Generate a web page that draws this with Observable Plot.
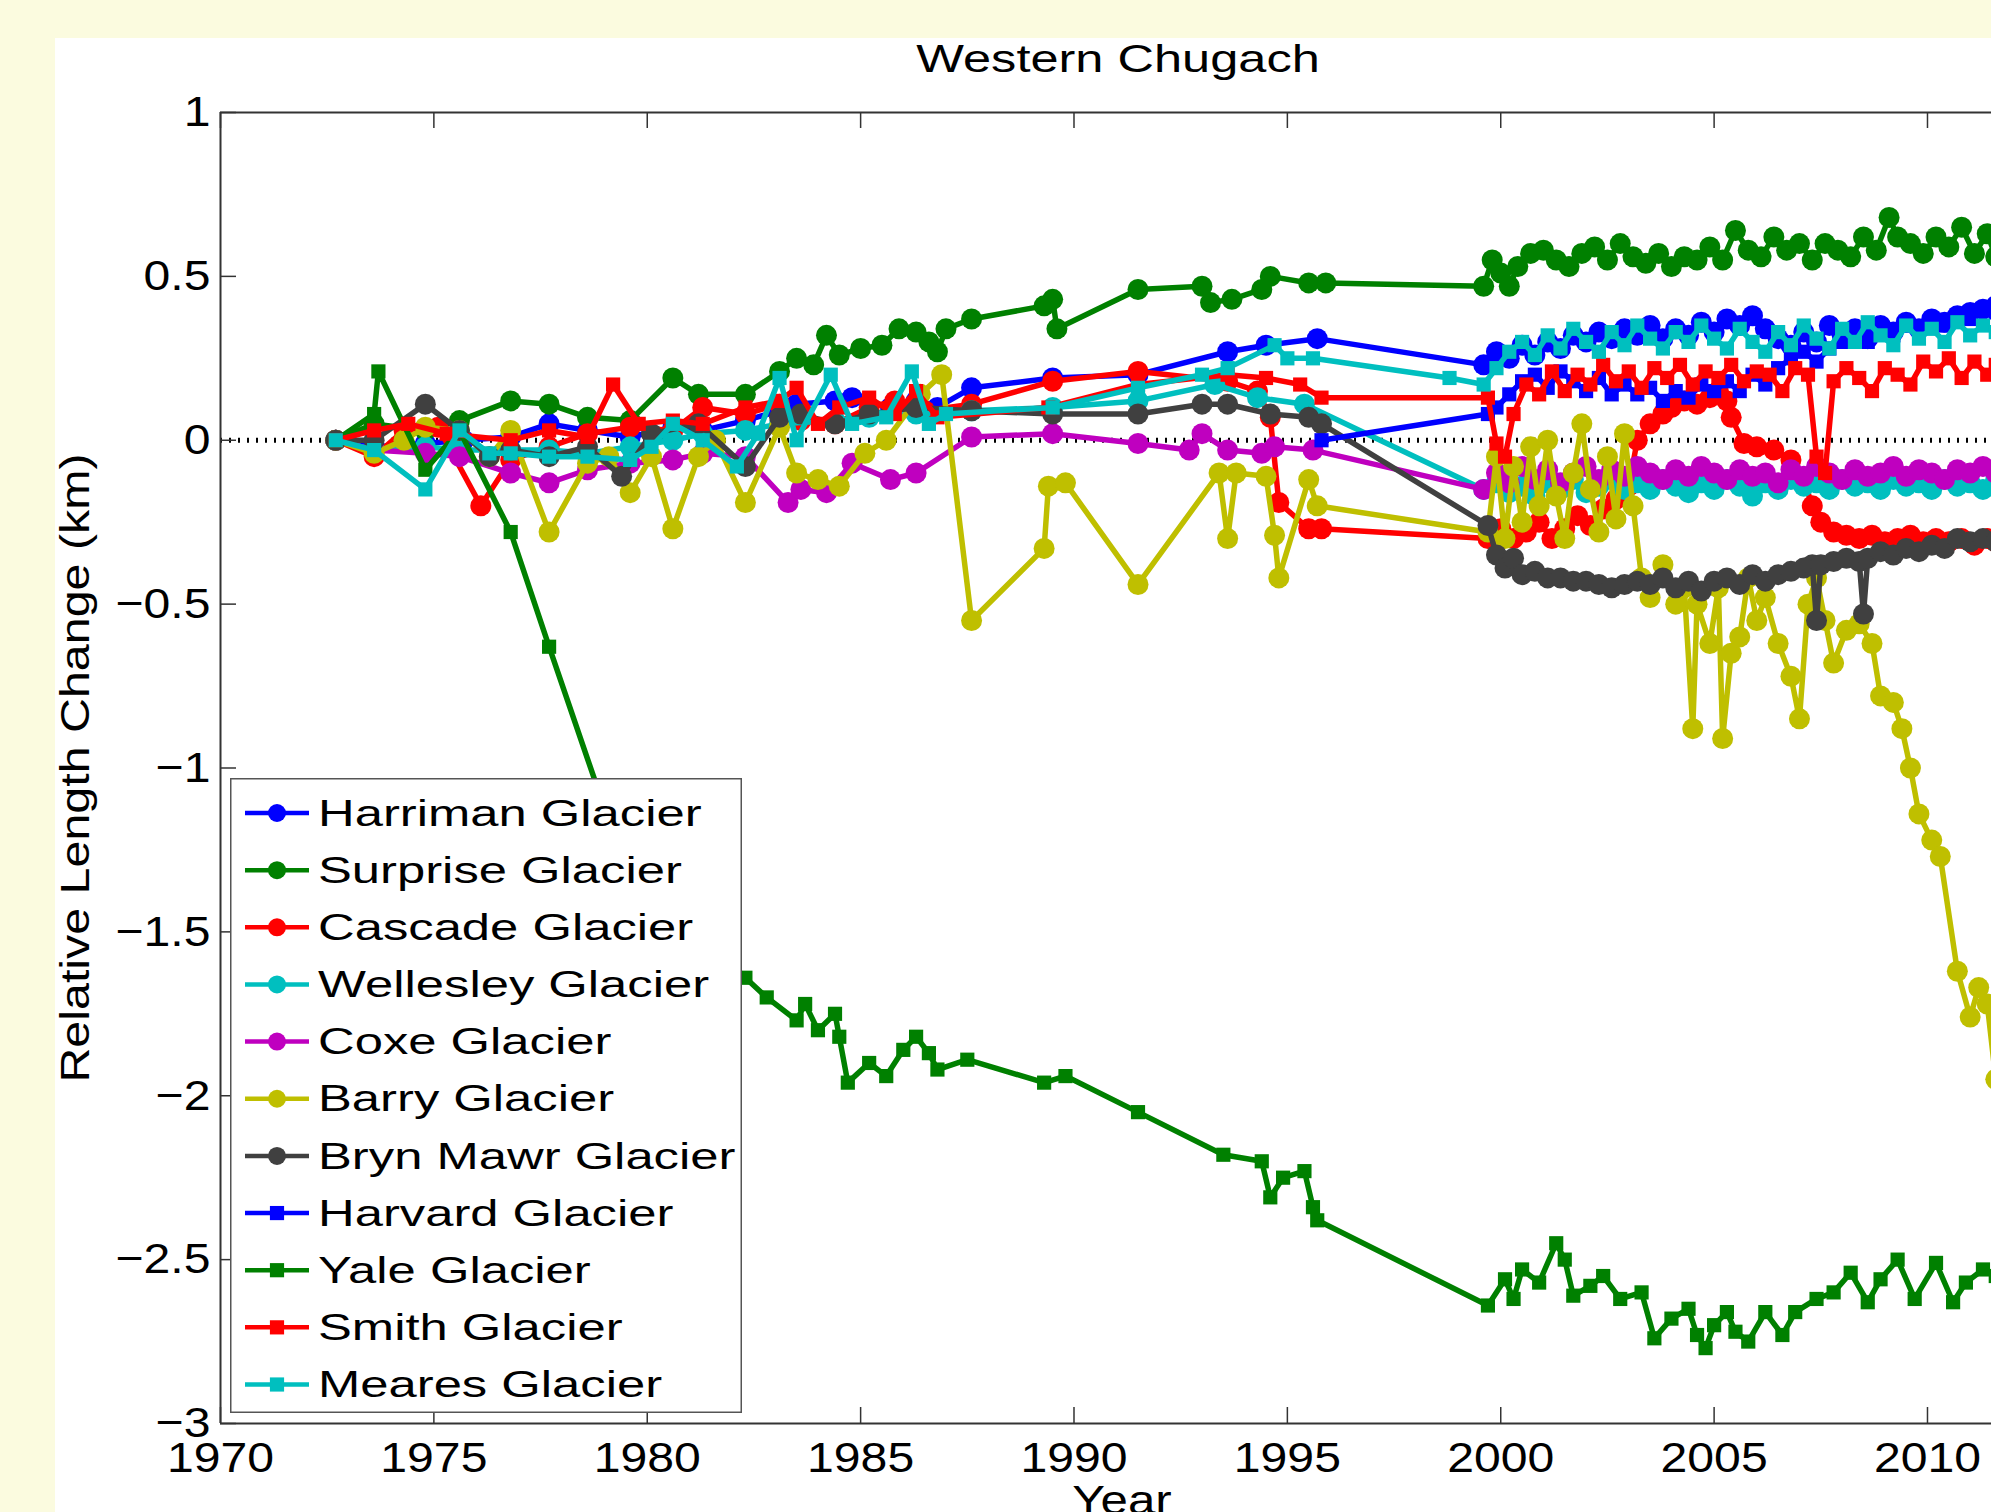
<!DOCTYPE html>
<html><head><meta charset="utf-8">
<script src="https://cdn.jsdelivr.net/npm/d3@7"></script>
<script src="https://cdn.jsdelivr.net/npm/@observablehq/plot@0.6"></script>
<style>
html,body{margin:0;padding:0;background:#fbfbdf;width:1991px;height:1512px;overflow:hidden;}
#panel{position:absolute;left:55px;top:38px;right:0;bottom:0;background:#fff;}
#chart{position:absolute;left:0;top:0;}
#legend{position:absolute;left:230px;top:778px;}
</style></head><body>
<div id="panel"></div><div id="chart"></div><div id="legend"></div>
<script>
// ---- data: [year, relative length change (km)] ----
const harriman = [[1972.7,0],[1973.6,-0.02],[1974.8,-0.01],[1975.7,0.0],[1976.8,0.01],[1977.7,0.05],[1978.6,0.03],[1979.6,0.01],[1980.6,0.04],[1981.3,0.03],[1982.3,0.06],[1983.1,0.09],[1983.5,0.11],[1984.4,0.12],[1984.8,0.13],[1985.7,0.1],[1986.3,0.12],[1986.8,0.1],[1987.6,0.16],[1989.5,0.19],[1991.5,0.2],[1993.6,0.27],[1994.5,0.29],[1995.7,0.31],[1999.6,0.23],[1999.9,0.27],[2000.2,0.25],[2000.5,0.29],[2000.8,0.26],[2001.1,0.3],[2001.4,0.28],[2001.7,0.32],[2002.0,0.3],[2002.3,0.33],[2002.6,0.31],[2002.9,0.34],[2003.2,0.32],[2003.5,0.35],[2003.8,0.31],[2004.1,0.34],[2004.4,0.32],[2004.7,0.36],[2005.0,0.33],[2005.3,0.37],[2005.6,0.35],[2005.9,0.38],[2006.2,0.34],[2006.5,0.31],[2006.8,0.29],[2007.1,0.33],[2007.4,0.3],[2007.7,0.35],[2008.0,0.32],[2008.3,0.34],[2008.6,0.31],[2008.9,0.35],[2009.2,0.33],[2009.5,0.36],[2009.8,0.34],[2010.1,0.37],[2010.4,0.36],[2010.7,0.38],[2011.0,0.39],[2011.3,0.4],[2011.6,0.41]];
const surprise = [[1972.7,0],[1973.6,0.05],[1974.8,0.03],[1975.6,0.06],[1976.8,0.12],[1977.7,0.11],[1978.6,0.07],[1979.6,0.06],[1980.6,0.19],[1981.2,0.14],[1982.3,0.14],[1983.1,0.21],[1983.5,0.25],[1983.9,0.23],[1984.2,0.32],[1984.5,0.26],[1985.0,0.28],[1985.5,0.29],[1985.9,0.34],[1986.3,0.33],[1986.6,0.3],[1986.8,0.27],[1987.0,0.34],[1987.6,0.37],[1989.3,0.41],[1989.5,0.43],[1989.6,0.34],[1991.5,0.46],[1993.0,0.47],[1993.2,0.42],[1993.7,0.43],[1994.4,0.46],[1994.6,0.5],[1995.5,0.48],[1995.9,0.48],[1999.6,0.47],[1999.8,0.55],[2000.0,0.51],[2000.2,0.47],[2000.4,0.53],[2000.7,0.57],[2001.0,0.58],[2001.3,0.55],[2001.6,0.53],[2001.9,0.57],[2002.2,0.59],[2002.5,0.55],[2002.8,0.6],[2003.1,0.56],[2003.4,0.54],[2003.7,0.57],[2004.0,0.53],[2004.3,0.56],[2004.6,0.55],[2004.9,0.59],[2005.2,0.55],[2005.5,0.64],[2005.8,0.58],[2006.1,0.56],[2006.4,0.62],[2006.7,0.58],[2007.0,0.6],[2007.3,0.55],[2007.6,0.6],[2007.9,0.58],[2008.2,0.56],[2008.5,0.62],[2008.8,0.58],[2009.1,0.68],[2009.3,0.62],[2009.6,0.6],[2009.9,0.57],[2010.2,0.62],[2010.5,0.59],[2010.8,0.65],[2011.1,0.57],[2011.4,0.63],[2011.6,0.56]];
const cascade = [[1972.7,0],[1973.6,-0.05],[1974.3,0.03],[1975.1,0.04],[1976.1,-0.2],[1976.8,-0.06],[1977.7,-0.02],[1978.6,0.02],[1979.6,0.04],[1980.6,0.03],[1981.3,0.1],[1982.3,0.08],[1983.1,0.11],[1983.6,0.06],[1984.4,0.05],[1985.2,0.1],[1985.8,0.12],[1986.5,0.09],[1987.6,0.11],[1989.5,0.18],[1991.5,0.21],[1993.6,0.18],[1994.3,0.15],[1994.6,0.07],[1994.8,-0.19],[1995.5,-0.27],[1995.8,-0.27],[1999.7,-0.3],[2000.0,-0.27],[2000.3,-0.3],[2000.6,-0.28],[2000.9,-0.25],[2001.2,-0.3],[2001.5,-0.27],[2001.8,-0.23],[2002.1,-0.26],[2002.4,-0.21],[2002.7,-0.18],[2003.0,-0.14],[2003.2,0.0],[2003.5,0.05],[2003.8,0.08],[2004.0,0.1],[2004.3,0.12],[2004.6,0.11],[2004.9,0.13],[2005.1,0.15],[2005.3,0.12],[2005.4,0.07],[2005.7,-0.01],[2006.0,-0.02],[2006.4,-0.03],[2006.8,-0.06],[2007.1,-0.12],[2007.3,-0.2],[2007.5,-0.25],[2007.8,-0.28],[2008.1,-0.29],[2008.4,-0.3],[2008.7,-0.29],[2009.0,-0.31],[2009.3,-0.3],[2009.6,-0.29],[2009.9,-0.31],[2010.2,-0.3],[2010.5,-0.31],[2010.8,-0.3],[2011.1,-0.32],[2011.4,-0.3],[2011.6,-0.31]];
const wellesley = [[1972.7,0],[1973.6,-0.03],[1974.8,-0.02],[1975.6,-0.03],[1976.8,-0.03],[1977.7,-0.03],[1978.6,-0.04],[1979.6,-0.02],[1980.6,0.0],[1981.3,0.02],[1982.3,0.03],[1983.1,0.05],[1984.4,0.06],[1985.2,0.07],[1986.3,0.08],[1987.6,0.09],[1989.5,0.1],[1991.5,0.12],[1993.3,0.17],[1994.3,0.13],[1995.4,0.11],[1999.6,-0.15],[1999.9,-0.13],[2000.2,-0.16],[2000.5,-0.14],[2000.8,-0.17],[2001.1,-0.13],[2001.4,-0.15],[2001.7,-0.12],[2002.0,-0.16],[2002.3,-0.14],[2002.6,-0.12],[2002.9,-0.15],[2003.2,-0.13],[2003.5,-0.15],[2003.8,-0.12],[2004.1,-0.14],[2004.4,-0.16],[2004.7,-0.13],[2005.0,-0.15],[2005.3,-0.12],[2005.6,-0.14],[2005.9,-0.17],[2006.2,-0.13],[2006.5,-0.15],[2006.8,-0.12],[2007.1,-0.14],[2007.4,-0.13],[2007.7,-0.15],[2008.0,-0.12],[2008.3,-0.14],[2008.6,-0.13],[2008.9,-0.15],[2009.2,-0.12],[2009.5,-0.14],[2009.8,-0.13],[2010.1,-0.15],[2010.4,-0.12],[2010.7,-0.14],[2011.0,-0.13],[2011.3,-0.15],[2011.6,-0.12]];
const coxe = [[1972.7,0],[1973.6,-0.03],[1974.8,-0.04],[1975.6,-0.05],[1976.8,-0.1],[1977.7,-0.13],[1978.6,-0.09],[1979.6,-0.07],[1980.6,-0.06],[1981.3,-0.04],[1982.3,-0.05],[1983.3,-0.19],[1983.6,-0.15],[1984.2,-0.16],[1984.8,-0.07],[1985.7,-0.12],[1986.3,-0.1],[1987.6,0.01],[1989.5,0.02],[1991.5,-0.01],[1992.7,-0.03],[1993.0,0.02],[1993.6,-0.03],[1994.4,-0.04],[1994.7,-0.02],[1995.6,-0.03],[1999.6,-0.15],[1999.9,-0.1],[2000.2,-0.13],[2000.5,-0.08],[2000.8,-0.12],[2001.1,-0.09],[2001.4,-0.13],[2001.7,-0.1],[2002.0,-0.08],[2002.3,-0.12],[2002.6,-0.09],[2002.9,-0.11],[2003.2,-0.08],[2003.5,-0.1],[2003.8,-0.12],[2004.1,-0.09],[2004.4,-0.11],[2004.7,-0.08],[2005.0,-0.1],[2005.3,-0.12],[2005.6,-0.09],[2005.9,-0.11],[2006.2,-0.1],[2006.5,-0.13],[2006.8,-0.09],[2007.1,-0.11],[2007.4,-0.08],[2007.7,-0.1],[2008.0,-0.12],[2008.3,-0.09],[2008.6,-0.11],[2008.9,-0.1],[2009.2,-0.08],[2009.5,-0.11],[2009.8,-0.09],[2010.1,-0.1],[2010.4,-0.12],[2010.7,-0.09],[2011.0,-0.1],[2011.3,-0.08],[2011.6,-0.1]];
const barry = [[1972.7,0],[1973.6,-0.04],[1974.3,0.0],[1974.8,0.04],[1975.6,0.03],[1976.3,-0.05],[1976.8,0.03],[1977.7,-0.28],[1978.6,-0.07],[1979.1,-0.05],[1979.6,-0.16],[1980.1,-0.05],[1980.6,-0.27],[1981.2,-0.05],[1981.6,0.0],[1982.3,-0.19],[1983.1,0.04],[1983.5,-0.1],[1984.0,-0.12],[1984.5,-0.14],[1985.1,-0.04],[1985.6,0.0],[1986.4,0.14],[1986.9,0.2],[1987.6,-0.55],[1989.3,-0.33],[1989.4,-0.14],[1989.8,-0.13],[1991.5,-0.44],[1993.4,-0.1],[1993.6,-0.3],[1993.8,-0.1],[1994.5,-0.11],[1994.7,-0.29],[1994.8,-0.42],[1995.5,-0.12],[1995.7,-0.2],[1999.7,-0.28],[1999.9,-0.05],[2000.1,-0.3],[2000.3,-0.08],[2000.5,-0.25],[2000.7,-0.02],[2000.9,-0.2],[2001.1,0.0],[2001.3,-0.17],[2001.5,-0.3],[2001.7,-0.1],[2001.9,0.05],[2002.1,-0.15],[2002.3,-0.28],[2002.5,-0.05],[2002.7,-0.24],[2002.9,0.02],[2003.1,-0.2],[2003.3,-0.42],[2003.5,-0.48],[2003.8,-0.38],[2004.1,-0.5],[2004.3,-0.45],[2004.5,-0.88],[2004.6,-0.5],[2004.9,-0.62],[2005.1,-0.45],[2005.2,-0.91],[2005.4,-0.65],[2005.6,-0.6],[2005.8,-0.42],[2006.0,-0.55],[2006.2,-0.48],[2006.5,-0.62],[2006.8,-0.72],[2007.0,-0.85],[2007.2,-0.5],[2007.4,-0.42],[2007.6,-0.55],[2007.8,-0.68],[2008.1,-0.58],[2008.4,-0.56],[2008.7,-0.62],[2008.9,-0.78],[2009.2,-0.8],[2009.4,-0.88],[2009.6,-1.0],[2009.8,-1.14],[2010.1,-1.22],[2010.3,-1.27],[2010.7,-1.62],[2011.0,-1.76],[2011.2,-1.67],[2011.4,-1.72],[2011.6,-1.95]];
const brynMawr = [[1972.7,0],[1973.6,0.0],[1974.8,0.11],[1975.6,0.03],[1976.3,-0.05],[1976.8,-0.03],[1977.7,-0.05],[1978.6,-0.02],[1979.4,-0.11],[1980.1,0.02],[1981.2,0.05],[1982.3,-0.08],[1983.1,0.07],[1983.6,0.08],[1984.4,0.05],[1985.2,0.08],[1986.3,0.1],[1987.6,0.09],[1989.5,0.08],[1991.5,0.08],[1993.0,0.11],[1993.6,0.11],[1994.6,0.08],[1995.5,0.07],[1995.8,0.05],[1999.7,-0.26],[1999.9,-0.35],[2000.1,-0.39],[2000.3,-0.36],[2000.5,-0.41],[2000.8,-0.4],[2001.1,-0.42],[2001.4,-0.42],[2001.7,-0.43],[2002.0,-0.43],[2002.3,-0.44],[2002.6,-0.45],[2002.9,-0.44],[2003.2,-0.43],[2003.5,-0.44],[2003.8,-0.42],[2004.1,-0.45],[2004.4,-0.43],[2004.7,-0.46],[2005.0,-0.43],[2005.3,-0.42],[2005.6,-0.44],[2005.9,-0.41],[2006.2,-0.43],[2006.5,-0.41],[2006.8,-0.4],[2007.1,-0.39],[2007.3,-0.38],[2007.4,-0.55],[2007.5,-0.38],[2007.8,-0.37],[2008.1,-0.36],[2008.4,-0.37],[2008.5,-0.53],[2008.6,-0.36],[2008.9,-0.34],[2009.2,-0.35],[2009.5,-0.33],[2009.8,-0.34],[2010.1,-0.32],[2010.4,-0.33],[2010.7,-0.3],[2011.0,-0.31],[2011.3,-0.3],[2011.6,-0.31]];
const harvard = [[1995.8,0.0],[1999.7,0.08],[1999.9,0.1],[2000.2,0.14],[2000.5,0.18],[2000.8,0.2],[2001.1,0.16],[2001.4,0.21],[2001.7,0.18],[2002.0,0.15],[2002.3,0.19],[2002.6,0.14],[2002.9,0.17],[2003.2,0.14],[2003.5,0.16],[2003.8,0.12],[2004.1,0.15],[2004.4,0.13],[2004.7,0.17],[2005.0,0.15],[2005.3,0.18],[2005.6,0.15],[2005.9,0.2],[2006.2,0.17],[2006.5,0.22],[2006.8,0.25],[2007.1,0.27],[2007.4,0.24],[2007.7,0.28],[2008.0,0.3],[2008.3,0.33],[2008.6,0.3],[2008.9,0.34],[2009.2,0.32],[2009.5,0.35],[2009.8,0.34],[2010.1,0.36],[2010.4,0.35],[2010.7,0.38],[2011.0,0.37],[2011.3,0.4],[2011.6,0.39]];
const yale = [[1972.7,0],[1973.6,0.08],[1973.7,0.21],[1974.8,-0.09],[1975.6,0.03],[1976.8,-0.28],[1977.7,-0.63],[1979.2,-1.2],[1980.8,-1.45],[1982.3,-1.64],[1982.8,-1.7],[1983.5,-1.77],[1983.7,-1.72],[1984.0,-1.8],[1984.4,-1.75],[1984.5,-1.82],[1984.7,-1.96],[1985.2,-1.9],[1985.6,-1.94],[1986.0,-1.86],[1986.3,-1.82],[1986.6,-1.87],[1986.8,-1.92],[1987.5,-1.89],[1989.3,-1.96],[1989.8,-1.94],[1991.5,-2.05],[1993.5,-2.18],[1994.4,-2.2],[1994.6,-2.31],[1994.9,-2.25],[1995.4,-2.23],[1995.6,-2.34],[1995.7,-2.38],[1999.7,-2.64],[2000.1,-2.56],[2000.3,-2.62],[2000.5,-2.53],[2000.9,-2.57],[2001.3,-2.45],[2001.5,-2.5],[2001.7,-2.61],[2002.1,-2.58],[2002.4,-2.55],[2002.8,-2.62],[2003.3,-2.6],[2003.6,-2.74],[2004.0,-2.68],[2004.4,-2.65],[2004.6,-2.73],[2004.8,-2.77],[2005.0,-2.7],[2005.3,-2.66],[2005.5,-2.72],[2005.8,-2.75],[2006.2,-2.66],[2006.6,-2.73],[2006.9,-2.66],[2007.4,-2.62],[2007.8,-2.6],[2008.2,-2.54],[2008.6,-2.63],[2008.9,-2.56],[2009.3,-2.5],[2009.7,-2.62],[2010.2,-2.51],[2010.6,-2.63],[2010.9,-2.57],[2011.3,-2.53],[2011.6,-2.55]];
const smith = [[1972.7,0],[1973.6,0.03],[1974.4,0.05],[1975.3,0.02],[1976.8,0.0],[1977.7,0.03],[1978.6,0.01],[1979.2,0.17],[1979.8,0.05],[1980.6,0.06],[1981.3,0.05],[1982.3,0.1],[1983.1,0.12],[1983.5,0.16],[1984.0,0.05],[1984.5,0.1],[1985.2,0.13],[1985.8,0.08],[1986.3,0.15],[1986.8,0.07],[1989.4,0.1],[1991.5,0.17],[1993.6,0.2],[1994.5,0.19],[1995.3,0.17],[1995.8,0.13],[1999.7,0.13],[1999.9,-0.01],[2000.1,-0.05],[2000.3,0.08],[2000.6,0.17],[2000.9,0.14],[2001.2,0.21],[2001.5,0.15],[2001.8,0.2],[2002.1,0.17],[2002.4,0.23],[2002.7,0.18],[2003.0,0.21],[2003.3,0.16],[2003.6,0.22],[2003.9,0.19],[2004.2,0.23],[2004.5,0.17],[2004.8,0.21],[2005.1,0.19],[2005.4,0.23],[2005.7,0.18],[2006.0,0.21],[2006.3,0.2],[2006.6,0.15],[2006.9,0.22],[2007.2,0.2],[2007.4,-0.05],[2007.6,-0.1],[2007.8,0.18],[2008.1,0.22],[2008.4,0.19],[2008.7,0.15],[2009.0,0.22],[2009.3,0.2],[2009.6,0.17],[2009.9,0.24],[2010.2,0.21],[2010.5,0.25],[2010.8,0.19],[2011.1,0.24],[2011.4,0.2],[2011.6,0.23]];
const meares = [[1972.7,0],[1973.6,-0.03],[1974.8,-0.15],[1975.6,0.03],[1976.3,-0.04],[1976.8,-0.04],[1977.7,-0.05],[1978.6,-0.05],[1979.6,-0.06],[1980.1,-0.02],[1980.6,0.05],[1981.3,0.0],[1982.1,-0.08],[1982.6,0.02],[1983.1,0.19],[1983.5,0.0],[1984.3,0.2],[1984.8,0.05],[1985.6,0.07],[1986.2,0.21],[1986.6,0.05],[1987.0,0.08],[1989.5,0.1],[1991.5,0.16],[1993.0,0.2],[1993.6,0.22],[1994.7,0.29],[1995.0,0.25],[1995.6,0.25],[1998.8,0.19],[1999.6,0.17],[1999.9,0.22],[2000.2,0.27],[2000.5,0.3],[2000.8,0.26],[2001.1,0.32],[2001.4,0.28],[2001.7,0.34],[2002.0,0.3],[2002.3,0.27],[2002.6,0.33],[2002.9,0.29],[2003.2,0.35],[2003.5,0.31],[2003.8,0.28],[2004.1,0.33],[2004.4,0.3],[2004.7,0.35],[2005.0,0.31],[2005.3,0.28],[2005.6,0.34],[2005.9,0.3],[2006.2,0.27],[2006.5,0.33],[2006.8,0.29],[2007.1,0.35],[2007.4,0.31],[2007.7,0.28],[2008.0,0.34],[2008.3,0.3],[2008.6,0.36],[2008.9,0.32],[2009.2,0.29],[2009.5,0.35],[2009.8,0.31],[2010.1,0.34],[2010.4,0.3],[2010.7,0.36],[2011.0,0.32],[2011.3,0.35],[2011.6,0.33]];

const seriesNames = ["Harriman Glacier","Surprise Glacier","Cascade Glacier","Wellesley Glacier","Coxe Glacier","Barry Glacier","Bryn Mawr Glacier","Harvard Glacier","Yale Glacier","Smith Glacier","Meares Glacier"];
const seriesData = [harriman, surprise, cascade, wellesley, coxe, barry, brynMawr, harvard, yale, smith, meares];
const seriesColors = ["#0000ff","#008000","#ff0000","#00bfbf","#bf00bf","#bfbf00","#404040","#0000ff","#008000","#ff0000","#00bfbf"];
const seriesSymbols = ["circle","circle","circle","circle","circle","circle","circle","square","square","square","square"];

const xTicks = [1970,1975,1980,1985,1990,1995,2000,2005,2010];
const yTicks = [-3,-2.5,-2,-1.5,-1,-0.5,0,0.5,1];
const title = "Western Chugach";
const xLabel = "Year";
const yLabel = "Relative Length Change (km)";

const xDomain = [1970, 2011.5];
const yDomain = [-3, 1];

// ---- layout ----
const W = 1991, H = 1512;
const mL = 220, mT = 112, mB = 89, mR = 0;
const tickLen = 16;
const axisColor = "#333";
const lineW = 5.5, dotR = 10.5, squareR = 8;

const marks = [
  Plot.ruleY([0], {stroke: "#000", strokeWidth: 5, strokeDasharray: "2,7"}),
];
seriesData.forEach((data, i) => {
  marks.push(Plot.line(data, {x: d => d[0], y: d => d[1], stroke: seriesColors[i], strokeWidth: lineW, strokeLinejoin: "round"}));
  marks.push(Plot.dot(data, {x: d => d[0], y: d => d[1], fill: seriesColors[i], stroke: "none",
    symbol: seriesSymbols[i], r: seriesSymbols[i] === "square" ? squareR : dotR}));
});
marks.push(
  // axes box (top, bottom, left)
  Plot.ruleY([yDomain[1], yDomain[0]], {stroke: axisColor, strokeWidth: 2}),
  Plot.ruleX([xDomain[0]], {stroke: axisColor, strokeWidth: 2}),
  // inward ticks
  Plot.ruleX(xTicks, {x: d => d, y1: yDomain[0], y2: yDomain[0], insetBottom: tickLen, stroke: axisColor, strokeWidth: 1.5}),
  Plot.ruleX(xTicks, {x: d => d, y1: yDomain[1], y2: yDomain[1], insetBottom: -tickLen, stroke: axisColor, strokeWidth: 1.5}),
  Plot.ruleY(yTicks, {y: d => d, x1: xDomain[0], x2: xDomain[0], insetRight: -tickLen, stroke: axisColor, strokeWidth: 1.5}),
  Plot.axisX(xTicks, {anchor: "bottom", tickSize: 0, tickPadding: 18, fontSize: 43, label: null, tickFormat: d => String(d)}),
  Plot.axisY(yTicks, {anchor: "left", tickSize: 0, tickPadding: 10, fontSize: 43, label: null, tickFormat: d3.format("")}),
  Plot.text([title], {text: d => d, frameAnchor: "top", textAnchor: "middle", dy: -67, dx: 12, fontSize: 38}),
  Plot.text([xLabel], {text: d => d, frameAnchor: "bottom", textAnchor: "middle", lineAnchor: "top", dy: 62, dx: 16, fontSize: 40}),
  Plot.text([yLabel], {text: d => d, frameAnchor: "left", textAnchor: "middle", rotate: -90, dx: -144, fontSize: 40})
);

const svg = Plot.plot({
  width: W, height: H,
  marginLeft: mL, marginTop: mT, marginBottom: mB, marginRight: mR,
  x: {domain: xDomain},
  y: {domain: yDomain},
  style: {background: "transparent", fontFamily: "'Liberation Sans', Arial, sans-serif", color: "#000", overflow: "hidden"},
  marks
});

// horizontal stretch of the text to mimic the wide rendering of the original figure
const stretch = {[title]: 1.33, [xLabel]: 1.23, [yLabel]: 1.21};
function stretchText(root, fn) {
  root.querySelectorAll("text").forEach(t => {
    const s = fn(t.textContent);
    if (!s || s === 1) return;
    let tr = t.getAttribute("transform") || "";
    const xa = t.getAttribute("x");
    if (xa != null && xa !== "" && !isNaN(parseFloat(xa))) {
      tr += ` translate(${parseFloat(xa)},0)`;
      t.removeAttribute("x");
    }
    t.setAttribute("transform", `${tr} scale(${s},1)`);
  });
}
stretchText(svg, s => stretch[s] || 1.12);
document.getElementById("chart").appendChild(svg);

// ---- legend ----
const lg = {w: 512, h: 635, row0: 35, rowH: 57.15, lineX0: 15, lineX1: 79, textX: 88, font: 36, sx: 1.41};
const lsvg = d3.create("svg").attr("width", lg.w).attr("height", lg.h)
  .style("font-family", "'Liberation Sans', Arial, sans-serif").style("display", "block");
lsvg.append("rect").attr("x", 0.75).attr("y", 0.75).attr("width", lg.w - 1.5).attr("height", lg.h - 1.5)
  .attr("fill", "#fff").attr("stroke", "#555").attr("stroke-width", 1.5);
seriesNames.forEach((name, i) => {
  const y = lg.row0 + i * lg.rowH;
  const g = lsvg.append("g").attr("transform", `translate(0,${y})`);
  g.append("line").attr("x1", lg.lineX0).attr("x2", lg.lineX1).attr("y1", 0).attr("y2", 0)
    .attr("stroke", seriesColors[i]).attr("stroke-width", 4.5);
  const cx = (lg.lineX0 + lg.lineX1) / 2;
  if (seriesSymbols[i] === "circle") {
    g.append("circle").attr("cx", cx).attr("cy", 0).attr("r", 9).attr("fill", seriesColors[i]);
  } else {
    const s = squareR * Math.sqrt(Math.PI);
    g.append("rect").attr("x", cx - s / 2).attr("y", -s / 2).attr("width", s).attr("height", s).attr("fill", seriesColors[i]);
  }
  g.append("text").attr("transform", `translate(${lg.textX},0) scale(${lg.sx},1)`).attr("dy", "0.35em")
    .attr("font-size", lg.font).attr("fill", "#000").text(name);
});
document.getElementById("legend").appendChild(lsvg.node());
</script>
</body></html>
